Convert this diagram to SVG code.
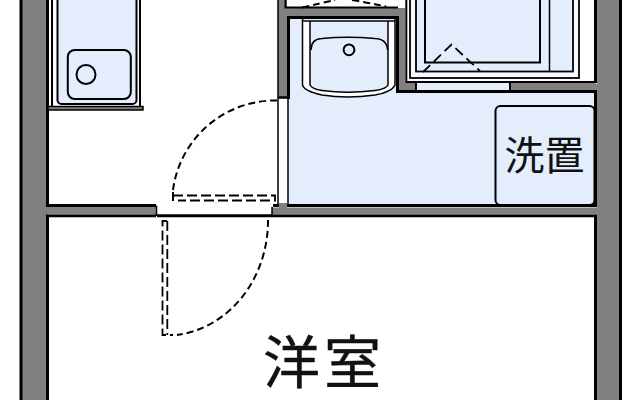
<svg xmlns="http://www.w3.org/2000/svg" width="640" height="400" viewBox="0 0 640 400">
<style>
.wall{fill:#808080;stroke:#000;stroke-width:3}
.wallf{fill:#808080}
.bk{fill:none;stroke:#000;stroke-width:2}
.th{fill:none;stroke:#000;stroke-width:1.5}
.blue{fill:#e3edfc}
.dash{fill:none;stroke:#000;stroke-width:2;stroke-dasharray:7 4}
.dash2{fill:none;stroke:#000;stroke-width:1.8;stroke-dasharray:10 4}
text{font-family:"Noto Sans CJK JP","Noto Sans CJK SC",sans-serif;font-weight:400;fill:#111}
</style>
<rect width="640" height="400" fill="#fff"/>
<g id="utility-floor">
<rect class="blue" x="288" y="17" width="308" height="189"/>
<rect x="405" y="0" width="190" height="82" fill="#fff"/>
</g>
<g id="walls">
<rect class="wallf" x="21" y="-2" width="26" height="404"/>
<path class="bk" style="stroke-width:3" d="M21 0V400M47.500 0V205.500H156M47.500 400V215.800H156"/>
<rect class="wallf" x="47" y="207" width="109" height="7.500"/>
<rect class="wallf" x="597" y="-2" width="23" height="404"/>
<path class="bk" style="stroke-width:3" d="M620.500 0V400M595.500 0V82"/>
<path class="bk" style="stroke-width:3" d="M595.500 92V205.500H273M595.500 400V215.800H157"/>
<rect class="wallf" x="595" y="84" width="3" height="6"/>
<rect class="wallf" x="272" y="207.500" width="325" height="7"/>
<path class="th" d="M156.500 205.500V216M272 207V215"/>
<rect class="wallf" x="278" y="0" width="9" height="97"/>
<rect class="wallf" x="279" y="203" width="8" height="5"/>
<rect class="wallf" x="286" y="8" width="119" height="8"/>
<rect class="wallf" x="399" y="8" width="6" height="75"/>
<rect class="wallf" x="399" y="83" width="16" height="7"/>
<rect class="wallf" x="510" y="83" width="86" height="7"/>
<path class="bk" style="stroke-width:3" d="M288.500 99V17.500H397.500V91.500H597"/>
<path class="bk" d="M416 83V91M510 83V91"/>
<path class="bk" d="M285.500 0V7.500H398M406.300 0V82H597"/>
<path class="th" d="M278 0V207M288 99V206"/>
<path class="th" style="stroke-width:2.500" d="M278 97.500H290"/>
</g>
<g id="kitchen">
<rect class="blue" x="57.500" y="-6" width="79" height="110" rx="4"/>
<rect x="57.500" y="-6" width="79" height="110" rx="4" class="bk"/>
<path class="bk" d="M52 0V106M140 0V106"/>
<rect x="48" y="106.500" width="95" height="3.500" fill="#808080" stroke="#000" stroke-width="1.500"/>
<rect class="bk" x="67.800" y="50" width="63" height="49" rx="7"/>
<circle class="bk" cx="86" cy="74.500" r="9.500"/>
</g>
<g id="basin">
<path d="M302.500 20H395V88Q390 93 375 95Q347 99 322 95Q307 93 302.500 88Z" fill="#fff"/>
<path d="M310 21H388V85Q385 89 375 90.500Q347 94 322 90.500Q313 89 310 85Z" class="blue"/>
<path class="th" d="M302.500 19V85Q304 91 322 95Q347 99 375 95Q392 92 395 85V19M310 21V85Q312 89 322 90.500Q347 94 375 90.500Q386 89 388 85V21M302.500 21H395"/>
<path class="th" d="M311 50Q311 39 322 38.500Q347 36 375 38.500Q387 39 387.500 50"/>
<circle class="bk" cx="349" cy="49.800" r="5.400"/>
</g>
<g id="bathtub">
<rect x="410" y="-4" width="169" height="82" fill="#f6f9fe" stroke="#000" stroke-width="1.800"/>
<rect x="416" y="-4" width="157" height="75.500" class="blue" stroke="#000" stroke-width="1.800"/>
<rect x="425" y="-4" width="115" height="66.500" class="blue" stroke="#000" stroke-width="2"/>
<path class="th" d="M549.500 0V71"/>
<path class="dash" style="stroke-width:1.800;stroke-dasharray:10 5" d="M423 72L451.500 44.500L480 71"/>
</g>
<g id="washer-place">
<rect class="bk" x="495.500" y="106" width="99" height="99" rx="5"/>
<text x="504.500" y="170" font-size="40" textLength="80" lengthAdjust="spacing">洗置</text>
</g>
<g id="toilet-door">
<path class="dash" d="M302 7.500Q322 3 335 0M352 0Q370 3 386 6.500"/>
</g>
<g id="door-1">
<path class="dash" d="M277 100.500A103 103 0 0 0 173 190"/>
<path class="bk" d="M173 192V201"/>
<path class="dash2" d="M173 195.500H275V200.500H178"/>
</g>
<g id="door-2">
<path class="dash" d="M268 220A103 115 0 0 1 177 335"/>
<path class="dash2" d="M167 221H162.500V335H173M167.300 221V335"/>
</g>
<g id="room-label">
<text x="263" y="383" font-size="57" textLength="118" lengthAdjust="spacing" stroke="#111" stroke-width="0.400">洋室</text>
</g>
</svg>
